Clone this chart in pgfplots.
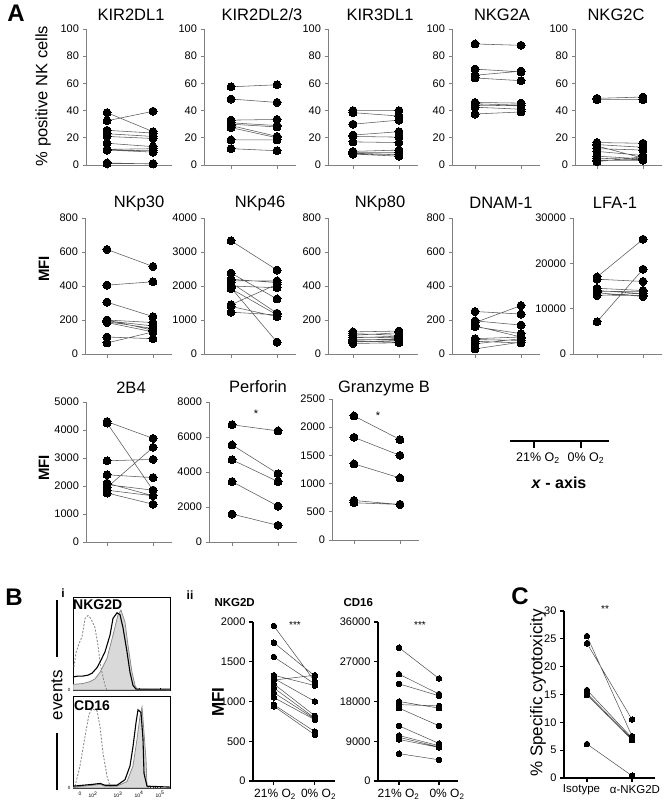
\documentclass[border=0pt]{standalone}
\usepackage{pgfplots}
\pgfplotsset{compat=1.18}
\usepackage{fontspec}
\setmainfont{Liberation Sans}
\newcommand{\fs}[1]{\fontsize{#1}{#1}\selectfont}
\pgfplotsset{
  every axis/.append style={/pgf/number format/assume math mode=true,
    /pgf/number format/set thousands separator={}, scaled ticks=false},
  pA/.style={scale only axis, x=46pt, xmax=2.42, ymin=0, enlargelimits=false,
    axis x line*=bottom, axis y line*=left,
    axis line style={black!50, line width=0.9pt},
    tick style={black!50, line width=0.8pt}, tick align=outside,
    major tick length=3.5pt, xtick={1,2}, xticklabels={},
    yticklabel style={font=\fs{11}},
    unbounded coords=jump, clip=false},
  pairA/.style={black!65, line width=0.55pt, mark=*, mark size=4pt,
    mark options={black, solid, fill=black, line width=0pt}},
  pB/.style={scale only axis, enlargelimits=false,
    axis x line*=bottom, axis y line*=left,
    axis line style={black, line width=1.3pt},
    tick style={black, line width=1.1pt}, tick align=outside,
    major tick length=4pt, xtick={1,2}, xticklabels={},
    yticklabel style={font=\fs{11}},
    unbounded coords=jump, clip=false},
  pairB/.style={black!70, line width=0.5pt, mark=*, mark size=2.8pt,
    mark options={black, solid, fill=black, line width=0pt}},
  pH/.style={scale only axis, width=97pt, xmin=0, xmax=97, ymin=0, ymax=100,
    enlargelimits=false, axis line style={black, line width=0.7pt},
    xtick={7,20,45,66,87}, minor xtick={12,15,27,32,35,38,40,42,52,56,59,61,63,73,77,80,82,84},
    ytick={0}, yticklabels={0}, xtick pos=lower, ytick pos=left,
    tick align=inside, major tick length=2pt, minor tick length=1.2pt,
    tick style={black, line width=0.4pt},
    yticklabel style={font=\fs{4.5}, xshift=1pt},
    xticklabel style={font=\fs{5}}, clip=true},
}
\begin{document}
\begin{tikzpicture}[x=1pt,y=1pt]
\path[use as bounding box] (0,0) rectangle (670,-809);

% ---------------- Row 1 ----------------
\begin{axis}[pA, xmin=0.543, height=136pt, ymax=100, ytick={0,20,...,100}, at={(86pt,-165pt)}, anchor=south west]
\addplot[pairA] coordinates {(1,38.5)(2,24.5)(1,nan)(1,32.5)(2,39.5)(1,nan)(1,25.5)(2,23.5)(1,nan)(1,23)(2,21)(1,nan)(1,21)(2,19.5)(1,nan)(1,16)(2,13.5)(1,nan)(1,11.5)(2,12)(1,nan)(1,11)(2,10.5)(1,nan)(1,11)(2,9.5)(1,nan)(1,1)(2,1)(1,nan)(1,1.5)(2,0.8)};
\end{axis}
\begin{axis}[pA, xmin=0.413, height=136pt, ymax=100, ytick={0,20,...,100}, at={(204pt,-165pt)}, anchor=south west]
\addplot[pairA] coordinates {(1,57.5)(2,59)(1,nan)(1,48.5)(2,46)(1,nan)(1,33)(2,33.5)(1,nan)(1,31)(2,29)(1,nan)(1,30)(2,28)(1,nan)(1,29)(2,21)(1,nan)(1,27.5)(2,20)(1,nan)(1,18.5)(2,18.5)(1,nan)(1,12)(2,10.5)};
\end{axis}
\begin{axis}[pA, xmin=0.457, height=136pt, ymax=100, ytick={0,20,...,100}, at={(328pt,-165pt)}, anchor=south west]
\addplot[pairA] coordinates {(1,40)(2,40)(1,nan)(1,38.5)(2,36)(1,nan)(1,30)(2,33)(1,nan)(1,22)(2,24.5)(1,nan)(1,21)(2,20.5)(1,nan)(1,17)(2,16.5)(1,nan)(1,10)(2,11)(1,nan)(1,9)(2,9)(1,nan)(1,8.5)(2,7.5)(1,nan)(1,8)(2,6.5)};
\end{axis}
\begin{axis}[pA, xmin=0.5, height=136pt, ymax=100, ytick={0,20,...,100}, at={(452pt,-165pt)}, anchor=south west]
\addplot[pairA] coordinates {(1,89)(2,88)(1,nan)(1,70.5)(2,68.5)(1,nan)(1,66)(2,69)(1,nan)(1,64)(2,62)(1,nan)(1,46)(2,45.5)(1,nan)(1,45)(2,44)(1,nan)(1,44)(2,43.5)(1,nan)(1,42.5)(2,41)(1,nan)(1,37.5)(2,39)};
\end{axis}
\begin{axis}[pA, xmin=0.522, height=136pt, ymax=100, ytick={0,20,...,100}, at={(575pt,-165pt)}, anchor=south west]
\addplot[pairA] coordinates {(1,49)(2,50)(1,nan)(1,48)(2,48)(1,nan)(1,16.5)(2,16)(1,nan)(1,15)(2,13)(1,nan)(1,14)(2,5)(1,nan)(1,12)(2,11)(1,nan)(1,10)(2,7)(1,nan)(1,6.5)(2,4.5)(1,nan)(1,5)(2,4)(1,nan)(1,3.5)(2,3.5)(1,nan)(1,2.5)(2,6)};
\end{axis}

% ---------------- Row 2 ----------------
\begin{axis}[pA, xmin=0.522, height=136pt, ymax=800, ytick={0,200,...,800}, at={(85pt,-354pt)}, anchor=south west]
\addplot[pairA] coordinates {(1,615)(2,515)(1,nan)(1,405)(2,425)(1,nan)(1,305)(2,220)(1,nan)(1,200)(2,185)(1,nan)(1,195)(2,165)(1,nan)(1,190)(2,150)(1,nan)(1,185)(2,130)(1,nan)(1,200)(2,140)(1,nan)(1,100)(2,90)(1,nan)(1,65)(2,130)};
\end{axis}
\begin{axis}[pA, xmin=0.413, height=136pt, ymax=4000, ytick={0,1000,...,4000}, at={(204pt,-354pt)}, anchor=south west]
\addplot[pairA] coordinates {(1,3330)(2,2470)(1,nan)(1,2380)(2,1620)(1,nan)(1,2200)(2,2100)(1,nan)(1,2150)(2,2150)(1,nan)(1,2100)(2,1200)(1,nan)(1,2000)(2,1950)(1,nan)(1,1950)(2,350)(1,nan)(1,1920)(2,1150)(1,nan)(1,1450)(2,2050)(1,nan)(1,1400)(2,1100)(1,nan)(1,1230)(2,1150)};
\end{axis}
\begin{axis}[pA, xmin=0.457, height=136pt, ymax=800, ytick={0,200,...,800}, at={(328pt,-354pt)}, anchor=south west]
\addplot[pairA] coordinates {(1,130)(2,135)(1,nan)(1,120)(2,110)(1,nan)(1,110)(2,125)(1,nan)(1,100)(2,95)(1,nan)(1,95)(2,105)(1,nan)(1,85)(2,85)(1,nan)(1,80)(2,90)(1,nan)(1,75)(2,70)(1,nan)(1,70)(2,80)(1,nan)(1,62)(2,66)};
\end{axis}
\begin{axis}[pA, xmin=0.5, height=136pt, ymax=800, ytick={0,200,...,800}, at={(452pt,-354pt)}, anchor=south west]
\addplot[pairA] coordinates {(1,250)(2,235)(1,nan)(1,185)(2,285)(1,nan)(1,195)(2,170)(1,nan)(1,160)(2,120)(1,nan)(1,165)(2,100)(1,nan)(1,90)(2,100)(1,nan)(1,85)(2,80)(1,nan)(1,75)(2,65)(1,nan)(1,60)(2,90)(1,nan)(1,30)(2,70)};
\end{axis}
\begin{axis}[pA, xmin=0.478, height=136pt, ymax=30000, ytick={0,10000,20000,30000}, at={(573pt,-354pt)}, anchor=south west]
\addplot[pairA] coordinates {(1,17000)(2,25300)(1,nan)(1,16500)(2,16000)(1,nan)(1,14500)(2,14000)(1,nan)(1,14000)(2,13300)(1,nan)(1,13800)(2,13800)(1,nan)(1,13500)(2,12700)(1,nan)(1,13000)(2,12900)(1,nan)(1,12900)(2,13400)(1,nan)(1,7100)(2,18700)};
\end{axis}

% ---------------- Row 3 ----------------
\begin{axis}[pA, xmin=0.543, height=140pt, ymax=5000, ytick={0,1000,...,5000}, at={(86pt,-542pt)}, anchor=south west]
\addplot[pairA] coordinates {(1,4300)(2,3700)(1,nan)(1,4250)(2,1850)(1,nan)(1,2900)(2,2950)(1,nan)(1,2400)(2,2300)(1,nan)(1,2100)(2,1650)(1,nan)(1,2050)(2,1850)(1,nan)(1,1950)(2,3380)(1,nan)(1,1850)(2,1650)(1,nan)(1,1750)(2,1350)};
\end{axis}
\begin{axis}[pA, xmin=0.5, height=140pt, ymax=8000, ytick={0,2000,...,8000}, at={(209pt,-542pt)}, anchor=south west]
\addplot[pairA] coordinates {(1,6700)(2,6350)(1,nan)(1,5550)(2,3900)(1,nan)(1,4700)(2,3450)(1,nan)(1,3450)(2,2050)(1,nan)(1,1600)(2,950)};
\end{axis}
\begin{axis}[pA, xmin=0.522, height=141pt, ymax=2500, ytick={0,500,...,2500}, at={(332pt,-540pt)}, anchor=south west]
\addplot[pairA] coordinates {(1,2200)(2,1780)(1,nan)(1,1820)(2,1500)(1,nan)(1,1350)(2,1100)(1,nan)(1,700)(2,630)(1,nan)(1,660)(2,630)};
\end{axis}

% ---------------- Panel B i histograms ----------------
\begin{axis}[pH, height=93pt, at={(73pt,-690pt)}, anchor=south west, xticklabels={}]
\addplot[draw=black!45, line width=0.8pt, fill=gray!30] coordinates {(0,6)(10,7)(17,9)(22,12)(27,19)(34,34)(40,59)(45,81)(48,86)(52,73)(55,48)(59,19)(62,5)(64,1)(97,0)} \closedcycle;
\addplot[black!45, line width=0.9pt, dash pattern=on 2pt off 1.5pt] coordinates {(1,25)(3,40)(6,50)(9,57)(12,77)(15,80)(17,78)(20,72)(22,67)(25,48)(27,30)(29,19)(32,5)(34,0)};
\addplot[black, line width=1.1pt] coordinates {(0,14)(5,15)(10,15)(15,16)(19,18)(24,24)(27,30)(32,41)(37,59)(40,77)(44,83)(47,81)(50,67)(54,41)(57,19)(60,5)(63,1)(97,1)};
\end{axis}
\begin{axis}[pH, height=92pt, at={(73pt,-788pt)}, anchor=south west, xticklabels={0,10\textsuperscript{2},10\textsuperscript{3},10\textsuperscript{4},10\textsuperscript{5}}]
\addplot[draw=black!45, line width=0.8pt, fill=gray!30] coordinates {(0,1)(20,3)(27,4)(32,2)(44,2)(54,7)(60,24)(64,53)(67,78)(69,88)(70,75)(73,31)(74,2)(76,0)(97,0)} \closedcycle;
\addplot[black!45, line width=0.9pt, dash pattern=on 2pt off 1.5pt] coordinates {(2,2)(7,24)(12,56)(16,80)(19,86)(24,84)(27,67)(30,38)(34,13)(37,2)(40,0)};
\addplot[black, line width=1.1pt] coordinates {(0,2)(10,3)(20,4)(27,5)(32,3)(44,3)(52,9)(57,24)(60,45)(63,71)(65,85)(68,82)(70,53)(71,16)(74,2)(97,1)};
\end{axis}

% ---------------- Panel B ii ----------------
\begin{axis}[pB, width=82pt, height=159pt, xmin=0.49, xmax=2.49, ymin=0, ymax=2000, ytick={0,500,...,2000},
  at={(253pt,-781pt)}, anchor=south west]
\addplot[pairB] coordinates {(1,1950)(2,1250)(1,nan)(1,1740)(2,1320)(1,nan)(1,1560)(2,1220)(1,nan)(1,1330)(2,1200)(1,nan)(1,1290)(2,1000)(1,nan)(1,1270)(2,1330)(1,nan)(1,1220)(2,820)(1,nan)(1,1170)(2,790)(1,nan)(1,1110)(2,780)(1,nan)(1,1050)(2,770)(1,nan)(1,960)(2,620)(1,nan)(1,940)(2,580)};
\end{axis}
\begin{axis}[pB, width=80pt, height=159pt, xmin=0.475, xmax=2.475, ymin=0, ymax=36000, ytick={0,9000,...,36000},
  at={(378pt,-781pt)}, anchor=south west]
\addplot[pairB] coordinates {(1,30200)(2,23200)(1,nan)(1,24200)(2,19700)(1,nan)(1,22000)(2,19300)(1,nan)(1,18000)(2,16500)(1,nan)(1,17300)(2,17000)(1,nan)(1,16500)(2,12500)(1,nan)(1,12500)(2,8500)(1,nan)(1,10300)(2,8000)(1,nan)(1,9900)(2,7700)(1,nan)(1,9400)(2,7600)(1,nan)(1,6200)(2,4800)};
\end{axis}

% ---------------- Panel C ----------------
\begin{axis}[pB, width=91pt, height=167pt, xmin=0.49, xmax=2.51, ymin=0, ymax=30, ytick={0,5,...,30},
  at={(564pt,-778pt)}, anchor=south west]
\addplot[pairB] coordinates {(1,25.5)(2,7.5)(1,nan)(1,24.2)(2,10.5)(1,nan)(1,15.8)(2,7.2)(1,nan)(1,15.2)(2,7.0)(1,nan)(1,14.9)(2,6.8)(1,nan)(1,6.1)(2,0.4)};
\end{axis}

% x tick labels of panels B ii and C
\begin{scope}[every node/.style={font=\fs{12}, inner sep=0pt}]
\node at (275,-794) {21\% O\textsubscript{2}};
\node at (318.5,-794) {0\% O\textsubscript{2}};
\node at (398.5,-794) {21\% O\textsubscript{2}};
\node at (447,-794) {0\% O\textsubscript{2}};
\end{scope}
\node[font=\fs{11.5}, inner sep=0pt] at (581.5,-790) {Isotype};
\node[font=\fs{11.5}, inner sep=0pt] at (635,-790) {α-NKG2D};

% ---------------- Text ----------------
\node[font=\fs{24}\bfseries] at (16,-13) {A};
\node[font=\fs{24}\bfseries] at (14,-597) {B};
\node[font=\fs{24}\bfseries] at (520,-596) {C};

\begin{scope}[every node/.style={font=\fs{16.5}}]
\node at (131,-15) {KIR2DL1};
\node at (262,-15) {KIR2DL2/3};
\node at (380,-15) {KIR3DL1};
\node at (502,-15) {NKG2A};
\node at (616,-15) {NKG2C};
\node at (139,-203) {NKp30};
\node at (260,-203) {NKp46};
\node at (380,-203) {NKp80};
\node at (501,-203) {DNAM-1};
\node at (615,-203) {LFA-1};
\node at (131,-388) {2B4};
\node at (258,-387) {Perforin};
\node at (384,-388) {Granzyme B};
\node[rotate=90] at (43,-96) {\% positive NK cells};
\end{scope}
\node[rotate=90, font=\fs{15}\bfseries] at (44,-269) {MFI};
\node[rotate=90, font=\fs{15}\bfseries] at (44,-468) {MFI};
\node[font=\fs{11}] at (256,-414) {*};
\node[font=\fs{11}] at (378,-416) {*};

% x-axis key
\draw[line width=1.4pt] (510,-441) -- (609,-441);
\draw[line width=1.2pt] (534,-441) -- (534,-448);
\draw[line width=1.2pt] (581,-441) -- (581,-448);
\node[font=\fs{12.5}] at (538,-458) {21\% O\textsubscript{2}};
\node[font=\fs{12.5}] at (586,-458) {0\% O\textsubscript{2}};
\node[font=\fs{16}\bfseries] at (559,-483) {\textit{x} - axis};

% Panel B labels
\node[font=\fs{12}\bfseries] at (63,-593) {i};
\node[font=\fs{12}\bfseries] at (190,-595) {ii};
\node[font=\fs{14}\bfseries, anchor=west, inner sep=0pt] at (73,-605) {NKG2D};
\node[font=\fs{14}\bfseries, anchor=west, inner sep=0pt] at (74,-706) {CD16};
\draw[line width=1.6pt] (57,-600) -- (57,-657);
\draw[line width=1.6pt] (57,-733) -- (57,-790);
\node[rotate=90, font=\fs{17}] at (57,-695) {events};
\node[font=\fs{11.5}\bfseries, anchor=west] at (211,-603) {NKG2D};
\node[font=\fs{11.5}\bfseries, anchor=west] at (340,-603) {CD16};
\node[rotate=90, font=\fs{17}\bfseries] at (218,-702) {MFI};
\node[font=\fs{10}] at (295,-625) {***};
\node[font=\fs{10}] at (420,-625) {***};
\node[font=\fs{10}] at (605,-609) {**};
\node[rotate=90, font=\fs{17}] at (538,-693) {\% Specific cytotoxicity};
\end{tikzpicture}
\end{document}
